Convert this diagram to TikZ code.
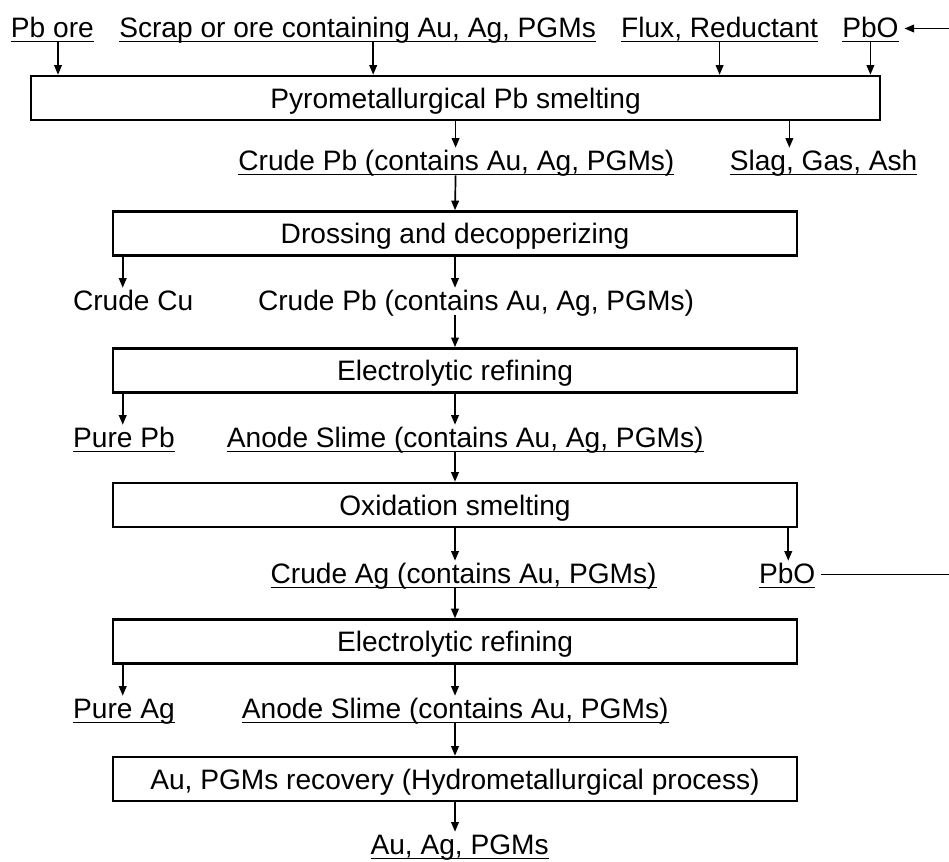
\documentclass[tikz,border=0pt]{standalone}
\usepackage{fontspec}
\setmainfont{Liberation Sans}
\usetikzlibrary{arrows.meta}
\newcommand{\uln}[1]{\setbox0\hbox{#1}\rlap{\rule[-3.6pt]{\wd0}{1pt}}\box0}
\tikzset{
  every picture/.style={font=\fontsize{20}{24}\selectfont},
  stage/.style={draw, line width=1.8pt, minimum height=1.1cm, minimum width=#1, text height=0.5cm, text depth=0cm, inner sep=0pt},
  stage/.default=17.1cm,
  stuff/.style={anchor=base, inner xsep=4pt, inner ysep=0pt, text height=0.55cm, text depth=0.125cm},
  arrow/.style={-{Triangle[length=2.4mm, width=1.9mm]}, line width=1.2pt},
  plain/.style={line width=1.2pt},
}

\begin{document}
\begin{tikzpicture}
  \useasboundingbox (0,0) rectangle (23.725,-21.525);
  \coordinate (rim) at (23.725,0);
  % feed materials
  \node[stuff] (pbore) at (1.31,-0.925) {\uln{Pb ore}};
  \node[stuff] (scrap) at (8.94,-0.925) {\uln{Scrap or ore containing Au, Ag, PGMs}};
  \node[stuff] (flux) at (17.99,-0.925) {\uln{Flux, Reductant}};
  \node[stuff] (pbo1) at (21.76,-0.925) {\uln{PbO}};
  % process steps
  \node[stage=21.225cm] (smelt) at (11.39,-2.45) {Pyrometallurgical Pb smelting};
  \node[stage] (dross) at (11.375,-5.8375) {Drossing and decopperizing};
  \node[stage] (elpb) at (11.375,-9.26) {Electrolytic refining};
  \node[stage] (oxid) at (11.375,-12.625) {Oxidation smelting};
  \node[stage] (elag) at (11.375,-16.04) {Electrolytic refining};
  \node[stage] (recov) at (11.375,-19.475) {Au, PGMs recovery (Hydrometallurgical process)};
  % intermediates and products
  \node[stuff] (crude1) at (11.41,-4.25) {\uln{Crude Pb (contains Au, Ag, PGMs)}};
  \node[stuff] (slag) at (20.59,-4.25) {\uln{Slag, Gas, Ash}};
  \node[stuff] (crudecu) at (3.33,-7.75) {Crude Cu};
  \node[stuff] (crude2) at (11.9,-7.75) {Crude Pb (contains Au, Ag, PGMs)};
  \node[stuff] (purepb) at (3.1,-11.175) {\uln{Pure Pb}};
  \node[stuff] (slime1) at (11.63,-11.175) {\uln{Anode Slime (contains Au, Ag, PGMs)}};
  \node[stuff] (crudeag) at (11.59,-14.575) {\uln{Crude Ag (contains Au, PGMs)}};
  \node[stuff] (pbo2) at (19.68,-14.575) {\uln{PbO}};
  \node[stuff] (pureag) at (3.1,-17.95) {\uln{Pure Ag}};
  \node[stuff] (slime2) at (11.38,-17.95) {\uln{Anode Slime (contains Au, PGMs)}};
  \node[stuff] (prod) at (11.49,-21.35) {\uln{Au, Ag, PGMs}};
  % feeds into smelting
  \draw[arrow] ([xshift=1.4mm]pbore.south) -- ([xshift=1.4mm]pbore.south |- smelt.north);
  \draw[arrow] ([xshift=3.9mm]scrap.south) -- ([xshift=3.9mm]scrap.south |- smelt.north);
  \draw[arrow] (flux.south) -- (flux.south |- smelt.north);
  \draw[arrow] (pbo1.south) -- (pbo1.south |- smelt.north);
  \draw[arrow] (pbo1.east -| rim) -- (pbo1.east);
  % main line
  \draw[arrow] (smelt.south) -- (smelt.south |- crude1.north);
  \draw[arrow] (smelt.south |- crude1.south) -- (dross.north);
  \draw[arrow] (dross.south) -- (dross.south |- crude2.north);
  \draw[arrow] (dross.south |- crude2.south) -- (elpb.north);
  \draw[arrow] (elpb.south) -- (elpb.south |- slime1.north);
  \draw[arrow] (elpb.south |- slime1.south) -- (oxid.north);
  \draw[arrow] (oxid.south) -- (oxid.south |- crudeag.north);
  \draw[arrow] (oxid.south |- crudeag.south) -- (elag.north);
  \draw[arrow] (elag.south) -- (elag.south |- slime2.north);
  \draw[arrow] (elag.south |- slime2.south) -- (recov.north);
  \draw[arrow] (recov.south) -- (recov.south |- prod.north);
  % side streams
  \draw[arrow] ([xshift=-2.3cm]smelt.south east) -- ([xshift=-2.3cm]smelt.south east |- slag.north);
  \draw[arrow] ([xshift=2.75mm]dross.south west) -- ([xshift=2.75mm]dross.south west |- crudecu.north);
  \draw[arrow] ([xshift=2.75mm]elpb.south west) -- ([xshift=2.75mm]elpb.south west |- purepb.north);
  \draw[arrow] ([xshift=-2.5mm]oxid.south east) -- ([xshift=-2.5mm]oxid.south east |- pbo2.north);
  \draw[plain] (pbo2.east) -- (pbo2.east -| rim);
  \draw[arrow] ([xshift=2.75mm]elag.south west) -- ([xshift=2.75mm]elag.south west |- pureag.north);
\end{tikzpicture}
\end{document}
